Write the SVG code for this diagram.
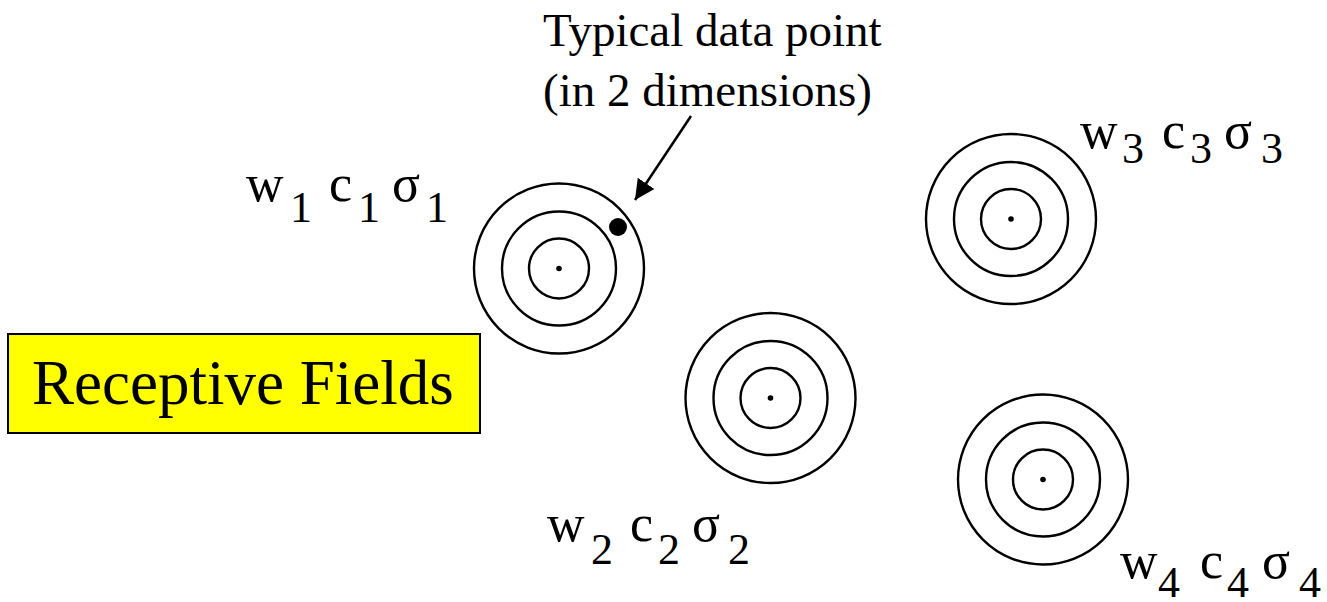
<svg xmlns="http://www.w3.org/2000/svg" width="1327" height="602" viewBox="0 0 1327 602">
<style>
.ring{fill:none;stroke:#000;stroke-width:2.4}
.ctr{fill:#000}
text{font-family:'Liberation Serif','DejaVu Serif',serif;fill:#000}
.lbl{font-size:52px}
.sub{font-size:44px}
.note{font-size:47px}
.title{font-size:63px}
</style>
<defs>
<marker id="ah" markerUnits="userSpaceOnUse" markerWidth="24" markerHeight="22" refX="20" refY="10" orient="auto">
<path d="M0,0 L20,10 L0,20 Z" fill="#000"/>
</marker>
</defs>
<rect width="1327" height="602" fill="#fff"/>
<g id="rf-title">
<rect x="8" y="334" width="472" height="99" fill="#FFFF00" stroke="#000" stroke-width="2"/>
<text class="title" x="32" y="404">Receptive Fields</text>
</g>
<g id="field1">
<circle class="ring" cx="559" cy="268.5" r="85"/>
<circle class="ring" cx="559" cy="268.5" r="57"/>
<circle class="ring" cx="559" cy="268.5" r="30"/>
<circle class="ctr" cx="559" cy="268.5" r="2.8"/>
<text class="lbl"><tspan x="246" y="201">w</tspan><tspan class="sub" x="290" y="222">1</tspan><tspan x="329" y="201">c</tspan><tspan class="sub" x="358" y="222">1</tspan><tspan x="392" y="201">σ</tspan><tspan class="sub" x="426" y="222">1</tspan></text>
</g>
<g id="field2">
<circle class="ring" cx="770.5" cy="398" r="85"/>
<circle class="ring" cx="770.5" cy="398" r="57"/>
<circle class="ring" cx="770.5" cy="398" r="30"/>
<circle class="ctr" cx="770.5" cy="398" r="2.8"/>
<text class="lbl"><tspan x="547" y="541">w</tspan><tspan class="sub" x="591" y="564">2</tspan><tspan x="630" y="541">c</tspan><tspan class="sub" x="658" y="564">2</tspan><tspan x="692" y="541">σ</tspan><tspan class="sub" x="728" y="564">2</tspan></text>
</g>
<g id="field3">
<circle class="ring" cx="1011" cy="219" r="85"/>
<circle class="ring" cx="1011" cy="219" r="57"/>
<circle class="ring" cx="1011" cy="219" r="30"/>
<circle class="ctr" cx="1011" cy="219" r="2.8"/>
<text class="lbl"><tspan x="1080" y="148">w</tspan><tspan class="sub" x="1122" y="163">3</tspan><tspan x="1162" y="148">c</tspan><tspan class="sub" x="1190" y="163">3</tspan><tspan x="1224" y="148">σ</tspan><tspan class="sub" x="1261" y="163">3</tspan></text>
</g>
<g id="field4">
<circle class="ring" cx="1043" cy="479.5" r="85"/>
<circle class="ring" cx="1043" cy="479.5" r="57"/>
<circle class="ring" cx="1043" cy="479.5" r="30"/>
<circle class="ctr" cx="1043" cy="479.5" r="2.8"/>
<text class="lbl"><tspan x="1120" y="578">w</tspan><tspan class="sub" x="1158" y="597">4</tspan><tspan x="1200" y="578">c</tspan><tspan class="sub" x="1227" y="597">4</tspan><tspan x="1262" y="578">σ</tspan><tspan class="sub" x="1299" y="597">4</tspan></text>
</g>
<g id="data-point">
<circle cx="618" cy="227" r="9" fill="#000"/>
<text class="note"><tspan x="543" y="46">Typical data point</tspan><tspan x="543" y="106">(in 2 dimensions)</tspan></text>
</g>
<g id="connectors">
<line x1="691" y1="116" x2="635" y2="200" stroke="#000" stroke-width="2.5" marker-end="url(#ah)"/>
</g>
</svg>
